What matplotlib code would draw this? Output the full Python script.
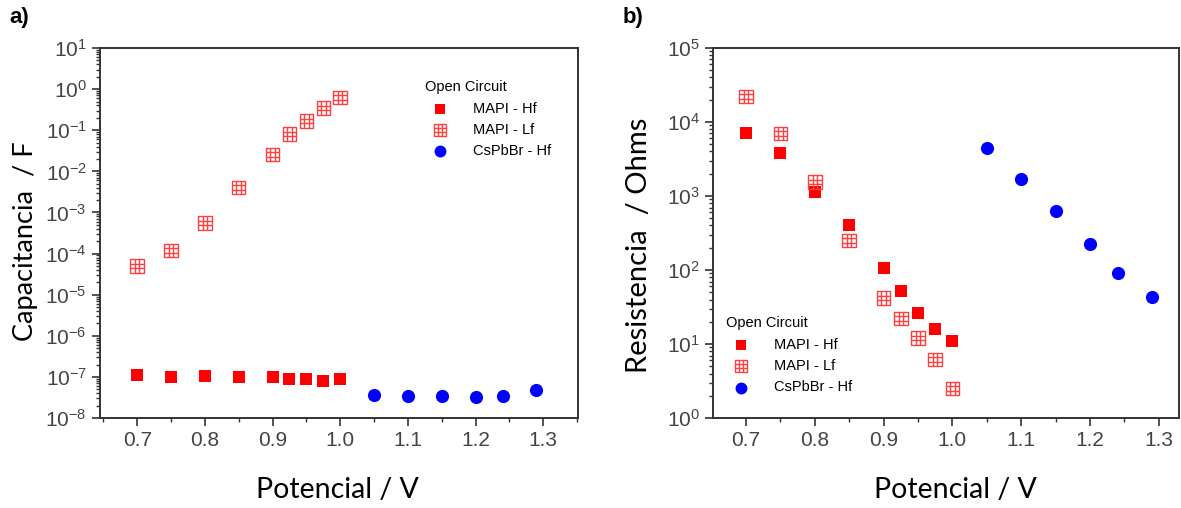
import matplotlib
matplotlib.use('Agg')
from matplotlib import pyplot as plt, ticker
from matplotlib.path import Path
import numpy as np

# data
v_mapi = [0.7, 0.75, 0.8, 0.85, 0.9, 0.925, 0.95, 0.975, 1.0]
v_cs = [1.05, 1.1, 1.15, 1.2, 1.24, 1.29]

cap_mapi_hf = [1.1e-7, 1.0e-7, 1.05e-7, 1.0e-7, 1.0e-7, 0.9e-7, 0.9e-7, 0.8e-7, 0.88e-7]
cap_mapi_lf = [5e-5, 1.2e-4, 5.5e-4, 4e-3, 2.6e-2, 8e-2, 0.17, 0.35, 0.62]
cap_cs_hf = [3.6e-8, 3.4e-8, 3.5e-8, 3.3e-8, 3.5e-8, 4.8e-8]

res_mapi_hf = [7e3, 3.8e3, 1.15e3, 400, 105, 52, 26, 16, 11]
res_mapi_lf = [2.2e4, 7e3, 1.55e3, 250, 42, 22, 12, 6.2, 2.5]
res_cs_hf = [4.5e3, 1.7e3, 620, 225, 90, 43]

labels = ['MAPI - Hf', 'MAPI - Lf', 'CsPbBr - Hf']
xticks = [0.7, 0.8, 0.9, 1.0, 1.1, 1.2, 1.3]

plt.rcParams['font.family'] = 'Liberation Sans'

# square with a 3x3 grid inside, like the Origin "boxed plus" symbol
t = 1 / 3
grid_verts = [(-1, -1), (1, -1), (1, 1), (-1, 1), (-1, -1),
              (-t, -1), (-t, 1), (t, -1), (t, 1),
              (-1, -t), (1, -t), (-1, t), (1, t)]
grid_codes = [Path.MOVETO, Path.LINETO, Path.LINETO, Path.LINETO, Path.CLOSEPOLY,
              Path.MOVETO, Path.LINETO, Path.MOVETO, Path.LINETO,
              Path.MOVETO, Path.LINETO, Path.MOVETO, Path.LINETO]
grid_marker = Path(grid_verts, grid_codes)

fig = plt.figure(figsize=(11.81, 5.08), dpi=100)
ax1 = fig.add_axes([0.0847, 0.177, 0.405, 0.7285])
ax2 = fig.add_axes([0.6037, 0.177, 0.395, 0.7285])


def draw(ax, hf, lf, cs):
    ax.scatter(v_mapi, hf, marker='s', s=75, color='#ff0000', lw=0, label=labels[0], zorder=3)
    ax.scatter(v_mapi, lf, marker=grid_marker, s=95, facecolor='none', edgecolor='#ff4040',
               lw=1.0, label=labels[1], zorder=3)
    ax.scatter(v_cs, cs, marker='o', s=90, color='#0000ff', lw=0, label=labels[2], zorder=3)
    ax.set_yscale('log')
    ax.set_xticks(xticks)
    ax.set_xticklabels(['%.1f' % t for t in xticks])
    ax.xaxis.set_minor_locator(ticker.MultipleLocator(0.05))
    ax.yaxis.set_major_locator(ticker.LogLocator(base=10, numticks=20))
    ax.yaxis.set_minor_locator(ticker.LogLocator(base=10, subs=np.arange(2, 10), numticks=20))
    ax.yaxis.set_minor_formatter(ticker.NullFormatter())
    ax.tick_params(which='major', direction='out', length=6, width=1.2, labelsize=15,
                   colors='#333333', labelcolor='#444444', top=False, right=False)
    ax.tick_params(which='minor', direction='out', length=3, width=1, colors='#333333',
                   top=False, right=False)
    for sp in ax.spines.values():
        sp.set_linewidth(1.4)
        sp.set_color('#333333')
    ax.set_xlabel('Potencial / V', fontsize=20.5, family='Lato')


legend_kw = dict(frameon=False, fontsize=10.5, title_fontsize=10.5, handletextpad=1.3,
                 labelspacing=0.5, markerscale=0.9, alignment='left', loc='upper left')

draw(ax1, cap_mapi_hf, cap_mapi_lf, cap_cs_hf)
ax1.set_xlim(0.645, 1.352)
ax1.set_ylim(1e-8, 10)
ax1.set_ylabel('Capacitancia  / F', fontsize=19.5, family='Lato')
ax1.yaxis.set_label_coords(-0.13, 0.478)
ax1.xaxis.set_label_coords(0.496, -0.158)
ax1.legend(title='Open Circuit', bbox_to_anchor=(0.652, 0.948), **legend_kw)

draw(ax2, res_mapi_hf, res_mapi_lf, res_cs_hf)
ax2.set_xlim(0.652, 1.33)
ax2.set_ylim(1, 1e5)
ax2.set_ylabel('Resistencia  / Ohms', fontsize=21, family='Lato')
ax2.yaxis.set_label_coords(-0.131, 0.468)
ax2.xaxis.set_label_coords(0.52, -0.158)
ax2.legend(title='Open Circuit', bbox_to_anchor=(0.0, 0.31), **legend_kw)

fig.text(0.008, 0.966, 'a)', fontsize=16, fontweight='bold', va='center')
fig.text(0.527, 0.966, 'b)', fontsize=16, fontweight='bold', va='center')

fig.savefig('out.png', dpi=100, facecolor='white')
